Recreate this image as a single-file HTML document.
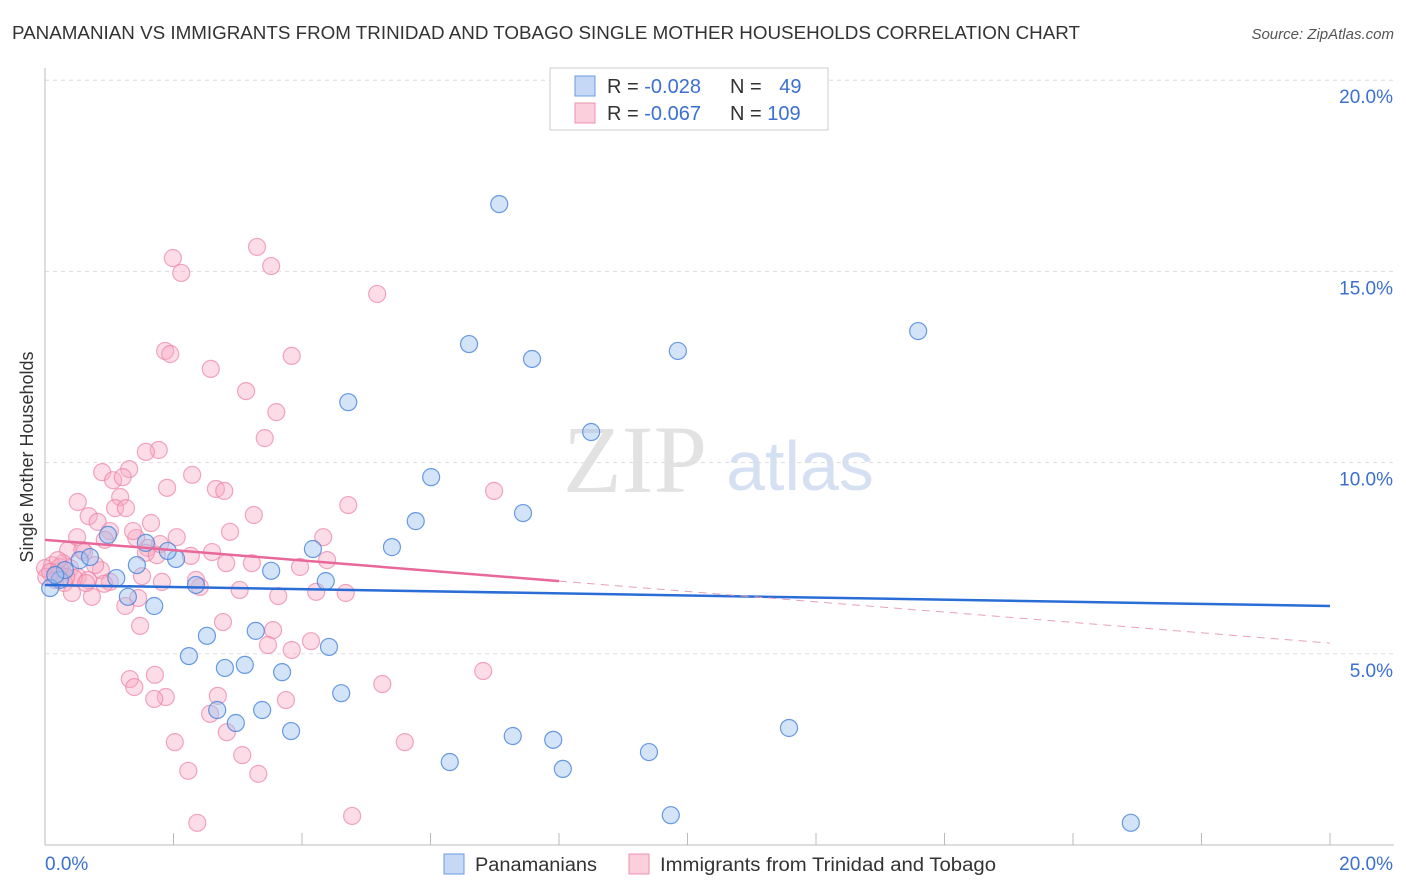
<!DOCTYPE html>
<html><head><meta charset="utf-8"><style>
body{margin:0;background:#fff;font-family:"Liberation Sans",sans-serif}
#wrap{position:relative;width:1406px;height:892px;overflow:hidden}
</style></head><body>
<div id="wrap">
<svg id="svg" width="1406" height="892" xmlns="http://www.w3.org/2000/svg">
<text x="12" y="39" font-size="18" fill="#333" textLength="1068" lengthAdjust="spacingAndGlyphs">PANAMANIAN VS IMMIGRANTS FROM TRINIDAD AND TOBAGO SINGLE MOTHER HOUSEHOLDS CORRELATION CHART</text>
<text x="1394" y="39" font-size="15" fill="#555" font-style="italic" text-anchor="end">Source: ZipAtlas.com</text>
<text x="33" y="457" font-size="18" fill="#333" text-anchor="middle" transform="rotate(-90 33 457)">Single Mother Households</text>
<text x="635" y="492" font-size="96" fill="#e2e2e2" text-anchor="middle" font-family="Liberation Serif,serif">ZIP</text>
<text x="800" y="490" font-size="70" fill="#d5e1f3" text-anchor="middle">atlas</text>
<g id="grid"></g><g id="pts"></g><g id="lines"></g>
<g>
<rect x="550" y="68" width="278" height="62" fill="#fff" stroke="#ccc"/>
<rect x="575" y="76" width="20" height="20" fill="#c5d8f5" stroke="#6a9be0"/>
<rect x="575" y="103" width="20" height="20" fill="#fbcfdc" stroke="#ee93b0"/>
<text x="607" y="93" font-size="20" fill="#333">R = <tspan fill="#3b6fd1">-0.028</tspan></text>
<text x="730" y="93" font-size="20" fill="#333">N = <tspan fill="#3b6fd1" dx="12">49</tspan></text>
<text x="607" y="120" font-size="20" fill="#333">R = <tspan fill="#3b6fd1">-0.067</tspan></text>
<text x="730" y="120" font-size="20" fill="#333">N = <tspan fill="#3b6fd1">109</tspan></text>
</g>
<g>
<rect x="444" y="854" width="20" height="20" fill="#c5d8f5" stroke="#6a9be0"/>
<text x="475" y="871" font-size="19" fill="#333" textLength="122" lengthAdjust="spacingAndGlyphs">Panamanians</text>
<rect x="629" y="854" width="20" height="20" fill="#fbcfdc" stroke="#ee93b0"/>
<text x="660" y="871" font-size="19" fill="#333" textLength="336" lengthAdjust="spacingAndGlyphs">Immigrants from Trinidad and Tobago</text>
</g>
</svg></div>
<script>
const blueX=[7.07,13.59,6.60,7.58,9.85,4.72,8.50,6.01,5.77,7.44,5.40,4.17,4.37,3.52,2.04,1.91,1.57,0.98,0.54,0.70,1.11,1.43,2.35,1.29,1.70,2.52,3.28,4.42,2.24,2.80,3.11,3.69,4.61,2.68,3.38,2.97,3.83,7.28,7.91,9.40,11.58,6.30,8.06,9.74,16.90,0.23,0.08,0.31,0.16];
const blueY=[16.76,13.44,13.10,12.71,12.92,11.58,10.80,9.62,8.47,8.68,7.79,7.74,6.90,7.17,7.48,7.69,7.90,8.11,7.45,7.53,6.98,7.32,6.80,6.49,6.25,5.47,5.60,5.18,4.94,4.63,4.71,4.52,3.97,3.53,3.53,3.19,2.98,2.85,2.75,2.43,3.06,2.17,1.99,0.78,0.58,6.93,6.72,7.19,7.06];
const pinkX=[3.30,1.99,3.52,2.12,5.17,1.87,1.95,3.84,2.58,3.13,3.60,3.42,1.77,1.57,1.31,0.89,2.29,1.06,1.21,1.90,2.66,2.79,6.99,0.51,1.17,4.72,1.09,1.26,3.25,0.68,1.65,0.82,2.88,4.33,0.50,1.01,1.42,2.05,0.93,0.36,1.60,1.57,0.61,1.74,2.27,2.60,4.39,3.22,2.82,0.28,0.11,0.39,0.00,0.19,0.02,0.51,0.87,1.51,0.67,0.45,0.30,1.01,1.82,2.41,4.22,4.68,3.63,0.42,0.73,1.45,1.25,1.48,2.77,3.55,4.14,3.47,3.84,6.82,1.32,1.71,1.39,5.25,1.88,1.70,2.69,3.75,2.57,2.83,5.60,2.02,3.07,2.23,3.32,2.37,4.78,0.23,0.33,0.16,0.58,0.78,1.37,1.79,3.97,3.03,2.35,0.20,0.08,0.64,0.92];
const pinkY=[15.64,15.35,15.14,14.96,14.41,12.92,12.84,12.79,12.45,11.87,11.32,10.64,10.33,10.28,9.83,9.75,9.68,9.54,9.62,9.34,9.31,9.26,9.26,8.97,9.10,8.89,8.81,8.81,8.63,8.60,8.42,8.45,8.19,8.05,8.05,8.21,8.03,8.05,7.98,7.71,7.77,7.64,7.66,7.58,7.56,7.66,7.45,7.37,7.37,7.37,7.32,7.24,7.24,7.14,7.01,7.01,7.19,7.03,6.93,6.98,6.85,6.88,6.88,6.75,6.62,6.59,6.51,6.59,6.49,6.46,6.25,5.73,5.83,5.62,5.33,5.23,5.10,4.55,4.34,4.45,4.13,4.21,3.87,3.82,3.90,3.79,3.43,2.95,2.69,2.69,2.35,1.94,1.86,0.58,0.76,7.27,7.01,6.93,7.71,7.32,8.21,7.87,7.27,6.67,6.93,7.45,7.14,6.85,6.83];
const yTicks=[5,10,15,20];
const xTickVals=[0,2,4,6,8,10,12,14,16,18,20];
const blueTrend=[6.80,6.25];
const pinkTrend=[7.98,5.28];
const pinkSolidEnd=8.0;
const NS="http://www.w3.org/2000/svg";
const X=v=>45+v*64.25, Y=v=>845-v*38.24;
function mk(tag,attrs,parent){const e=document.createElementNS(NS,tag);for(const k in attrs)e.setAttribute(k,attrs[k]);parent.appendChild(e);return e;}
const grid=document.getElementById('grid'),pts=document.getElementById('pts'),lines=document.getElementById('lines');
yTicks.forEach(t=>{
 const l=mk('line',{x1:45,x2:1394,y1:Y(t),y2:Y(t),stroke:'#ddd','stroke-dasharray':'4 4'},grid);
 
 
 const tx=mk('text',{x:1393,y:Y(t)+23,'font-size':19,fill:'#3b6fd1','text-anchor':'end'},grid);
 tx.textContent=t.toFixed(1)+'%';
 
 
});
const ax=mk('line',{x1:45,x2:45,y1:68,y2:845,stroke:'#bbb'},grid);


const bx=mk('line',{x1:45,x2:1394,y1:845,y2:845,stroke:'#bbb'},grid);


xTickVals.forEach(t=>{
 const l=mk('line',{x1:X(t),x2:X(t),y1:833,y2:845,stroke:'#bbb'},grid);
 
 
});
[[0,'start',45],[20,'end',1393]].forEach(([v,a,x])=>{
 const tx=mk('text',{x:x,y:870,'font-size':19,fill:'#3b6fd1','text-anchor':a},grid);
 tx.textContent=v.toFixed(1)+'%';
 
 
});
pinkX.forEach((v,i)=>{
 const c=mk('circle',{cx:X(v),cy:Y(pinkY[i]),r:8.5,fill:'rgba(247,170,195,0.4)',stroke:'rgba(236,130,165,0.7)','stroke-width':1.2},pts);
 
 
});
blueX.forEach((v,i)=>{
 const c=mk('circle',{cx:X(v),cy:Y(blueY[i]),r:8.5,fill:'rgba(160,195,240,0.45)',stroke:'rgba(70,130,220,0.8)','stroke-width':1.2},pts);
 
 
});
const pAt=x=>pinkTrend[0]+(pinkTrend[1]-pinkTrend[0])*x/20;
const t1=mk('line',{x1:X(0),y1:Y(blueTrend[0]),x2:X(20),y2:Y(blueTrend[1]),stroke:'#2a6dd6','stroke-width':2.5},lines);


const t2=mk('line',{x1:X(0),y1:Y(pAt(0)),x2:X(pinkSolidEnd),y2:Y(pAt(pinkSolidEnd)),stroke:'#e8689a','stroke-width':2.5},lines);


const t3=mk('line',{x1:X(pinkSolidEnd),y1:Y(pAt(pinkSolidEnd)),x2:X(20),y2:Y(pAt(20)),stroke:'#e8a0b8','stroke-width':1,'stroke-dasharray':'8 6'},lines);


</script>
</body></html>
